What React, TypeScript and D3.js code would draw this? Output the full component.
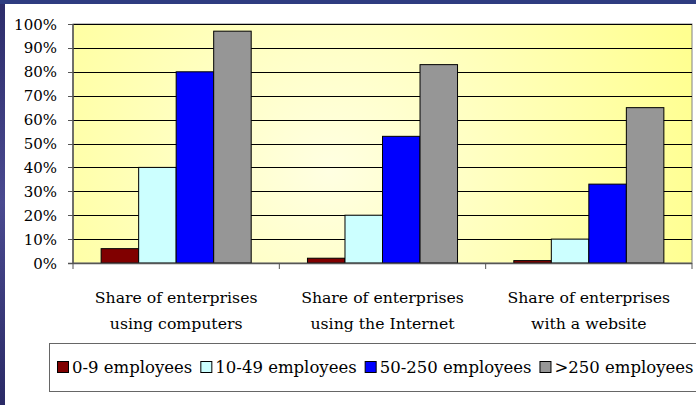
import React, { useEffect, useRef } from "react";
import * as d3 from "d3";

const categories = [
  ["Share of enterprises", "using computers"],
  ["Share of enterprises", "using the Internet"],
  ["Share of enterprises", "with a website"],
];
const seriesNames = ["0-9 employees", "10-49 employees", "50-250 employees", ">250 employees"];
const seriesColors = ["#800000", "#CCFFFF", "#0000FF", "#969696"];
const values = [
  [6, 40, 80, 97],
  [2, 20, 53, 83],
  [1, 10, 33, 65],
];
const yTicks = [0, 10, 20, 30, 40, 50, 60, 70, 80, 90, 100];

const W = 696, H = 405;
const FONT = "'DejaVu Serif', serif";

export default function App() {
  const ref = useRef<SVGSVGElement>(null);
  useEffect(() => {
    const svg = d3.select(ref.current);
    svg.selectAll("*").remove();
    const defs = svg.append("defs");
    const rg = defs.append("radialGradient").attr("id", "bg").attr("gradientUnits", "userSpaceOnUse")
      .attr("cx", 330).attr("cy", 170).attr("r", 380);
    rg.append("stop").attr("offset", "0%").attr("stop-color", "#FFFFE2");
    rg.append("stop").attr("offset", "100%").attr("stop-color", "#FFFF90");
    const lg = defs.append("linearGradient").attr("id", "side").attr("x1", 0).attr("y1", 0).attr("x2", 0).attr("y2", 1);
    lg.append("stop").attr("offset", "0%").attr("stop-color", "#2c2c6a");
    lg.append("stop").attr("offset", "50%").attr("stop-color", "#4a4a90");
    lg.append("stop").attr("offset", "100%").attr("stop-color", "#2a2a66");

    svg.append("rect").attr("width", W).attr("height", H).attr("fill", "url(#side)");
    svg.append("rect").attr("x", 0).attr("y", 0).attr("width", W).attr("height", 4).attr("fill", "#2e3c80");
    svg.append("rect").attr("x", 5).attr("y", 4).attr("width", W - 5).attr("height", H - 4).attr("fill", "#fff");

    const left = 73, right = 692, top = 24, bottom = 263;
    const x0 = d3.scaleBand<number>().domain(d3.range(categories.length)).range([left, right]).paddingInner(0).paddingOuter(0);
    const bw = x0.bandwidth() / 5.5;
    const x1 = d3.scaleBand<number>().domain(d3.range(seriesNames.length))
      .range([x0.bandwidth() * 0.75 / 5.5, x0.bandwidth() * 0.75 / 5.5 + 4 * bw]);
    const y = d3.scaleLinear().domain([0, 100]).range([bottom, top]);

    svg.append("rect").attr("x", left).attr("y", top).attr("width", right - left).attr("height", bottom - top)
      .attr("fill", "url(#bg)").attr("stroke", "#808080").attr("stroke-width", 1);

    svg.append("g").selectAll("line").data(yTicks.filter(t => t > 0)).join("line")
      .attr("x1", left).attr("x2", right).attr("y1", d => Math.round(y(d)) + 0.5).attr("y2", d => Math.round(y(d)) + 0.5)
      .attr("stroke", "#000").attr("stroke-width", 1);

    const g = svg.append("g");
    values.forEach((row, ci) => {
      g.append("g").attr("transform", `translate(${x0(ci)},0)`).selectAll("rect").data(row).join("rect")
        .attr("x", (d, i) => x1(i)!).attr("width", x1.bandwidth())
        .attr("y", d => y(d)).attr("height", d => bottom - y(d))
        .attr("fill", (d, i) => seriesColors[i]).attr("stroke", "#000").attr("stroke-width", 1);
    });

    // axes
    svg.append("line").attr("x1", left).attr("x2", left).attr("y1", top).attr("y2", bottom + 0.5).attr("stroke", "#555").attr("stroke-width", 1.5);
    svg.append("line").attr("x1", left - 5).attr("x2", right).attr("y1", bottom + 0.5).attr("y2", bottom + 0.5).attr("stroke", "#555").attr("stroke-width", 1.5);
    svg.append("g").selectAll("line").data(yTicks).join("line")
      .attr("x1", left - 5).attr("x2", left).attr("y1", d => Math.round(y(d)) + 0.5).attr("y2", d => Math.round(y(d)) + 0.5)
      .attr("stroke", "#555");
    svg.append("g").selectAll("text").data(yTicks).join("text")
      .attr("x", 57).attr("y", d => y(d) + 5.5).attr("text-anchor", "end")
      .attr("font-family", FONT).attr("font-size", 15).attr("fill", "#000").text(d => `${d}%`);
    const catTicks = d3.range(categories.length + 1).map(i => left + i * x0.bandwidth());
    svg.append("g").selectAll("line").data(catTicks).join("line")
      .attr("x1", d => d).attr("x2", d => d).attr("y1", bottom).attr("y2", bottom + 6).attr("stroke", "#555");

    const ct = svg.append("g").selectAll("text").data(categories).join("text")
      .attr("text-anchor", "middle").attr("font-family", FONT).attr("font-size", 15.7).attr("fill", "#000");
    ct.selectAll("tspan").data((d, i) => d.map(s => ({ s, i }))).join("tspan")
      .attr("x", d => x0(d.i)! + x0.bandwidth() / 2).attr("y", (d, j) => 303 + j * 26).text(d => d.s);

    // legend
    svg.append("rect").attr("x", 49.5).attr("y", 343.5).attr("width", 700).attr("height", 48).attr("fill", "#fff").attr("stroke", "#666");
    let cx = 57;
    seriesNames.forEach((name, i) => {
      svg.append("rect").attr("x", cx + 0.5).attr("y", 361.5).attr("width", 11).attr("height", 11)
        .attr("fill", seriesColors[i]).attr("stroke", "#000");
      const t = svg.append("text").attr("x", cx + 15).attr("y", 372.5).attr("font-family", FONT).attr("font-size", 16.5)
        .attr("fill", "#000").text(name);
      const w = (t.node() as SVGTextElement).getComputedTextLength();
      cx = cx + 15 + w + 8;
    });
  }, []);
  return (
    <svg ref={ref} width={W} height={H} style={{ position: "absolute", left: 0, top: 0, display: "block" }} />
  );
}
